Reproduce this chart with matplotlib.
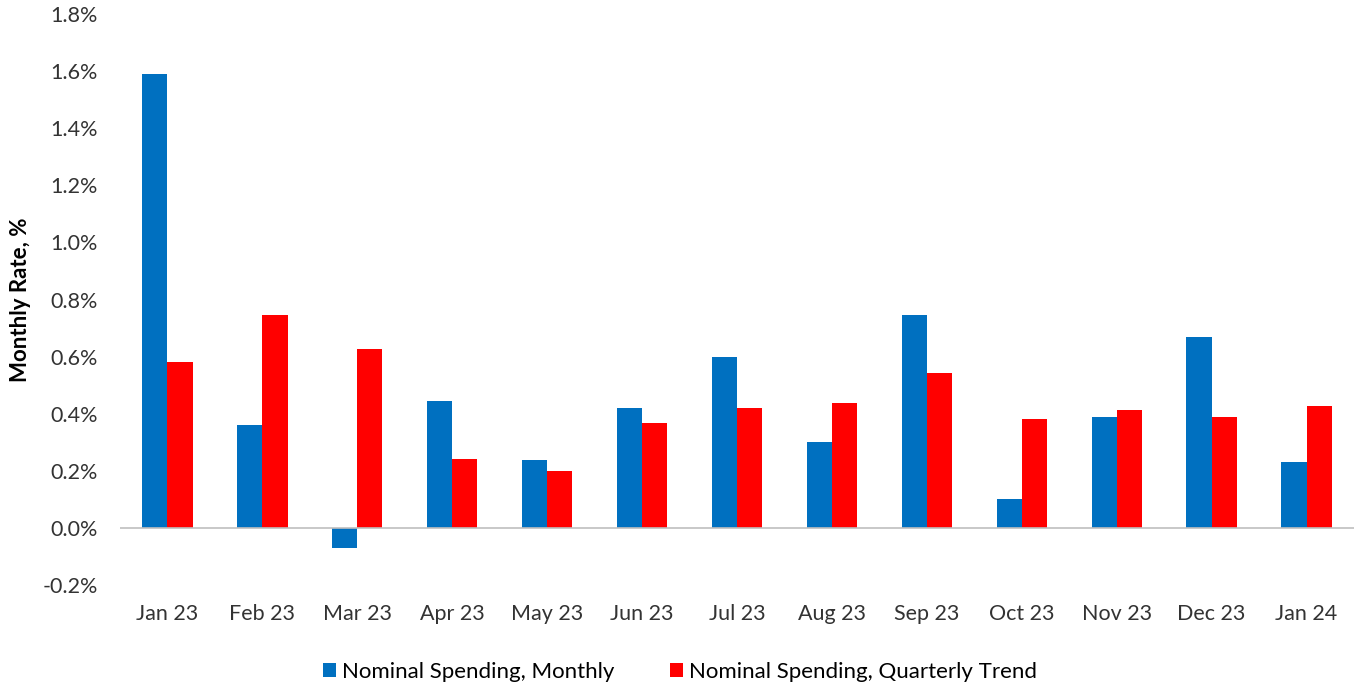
import numpy as np
import matplotlib
matplotlib.use("Agg")
import matplotlib.pyplot as plt
from matplotlib.ticker import FuncFormatter

months = ["Jan 23", "Feb 23", "Mar 23", "Apr 23", "May 23", "Jun 23", "Jul 23",
          "Aug 23", "Sep 23", "Oct 23", "Nov 23", "Dec 23", "Jan 24"]
monthly = [1.59, 0.36, -0.07, 0.445, 0.238, 0.42, 0.599, 0.30, 0.746, 0.10, 0.389, 0.669, 0.231]
quarterly = [0.581, 0.746, 0.627, 0.242, 0.20, 0.368, 0.42, 0.438, 0.543, 0.382, 0.413, 0.389, 0.427]

plt.rcParams['font.family'] = ['Lato', 'DejaVu Sans']

fig = plt.figure(figsize=(13.54, 6.85), dpi=100)
ax = fig.add_axes([120 / 1354, 1 - 585 / 685, 1 - 120 / 1354, (585 - 14) / 685])

x = np.arange(len(months))
w = 0.265
ax.bar(x - w / 2, monthly, w, color="#0070C0", label="Nominal Spending, Monthly")
ax.bar(x + w / 2, quarterly, w, color="#FF0000", label="Nominal Spending, Quarterly Trend")

ax.axhline(0, color="#BFBFBF", lw=1.2)
ax.set_xlim(-0.5, len(months) - 0.5)
ax.set_ylim(-0.2, 1.8)
ax.set_yticks(np.arange(-0.2, 1.81, 0.2))
ax.yaxis.set_major_formatter(FuncFormatter(lambda v, p: f"{v:.1f}%"))
ax.set_xticks(x)
ax.set_xticklabels(months)
ax.tick_params(axis="both", length=0, labelsize=15.5, colors="#333333")
ax.tick_params(axis="x", pad=14)
ax.tick_params(axis="y", pad=16)
for s in ax.spines.values():
    s.set_visible(False)
ax.set_ylabel("Monthly Rate, %", fontsize=16, fontweight="bold", labelpad=8)

fig.legend(loc="lower center", bbox_to_anchor=(0.502, -0.025), ncol=2, frameon=False,
           fontsize=16, handlelength=0.6, handleheight=0.6, handletextpad=0.25,
           columnspacing=2.5)

fig.savefig("out.png", dpi=100)
